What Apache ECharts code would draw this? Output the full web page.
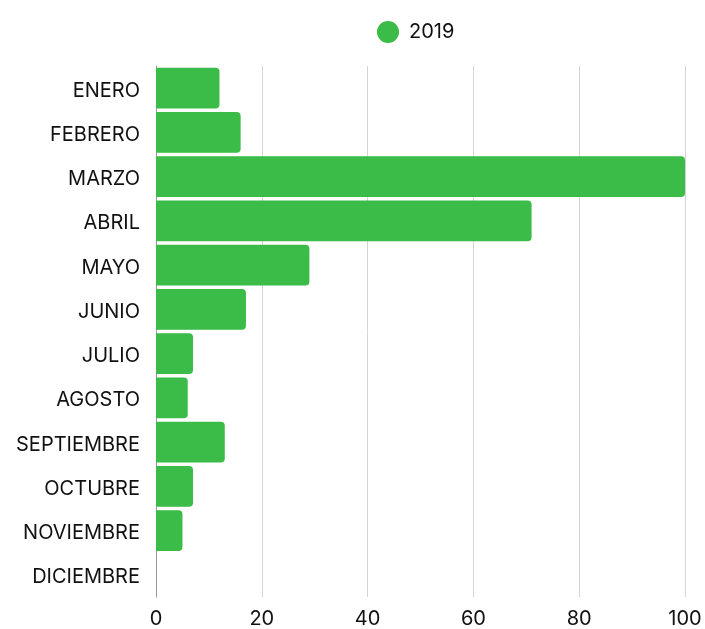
<!DOCTYPE html>
<html>
<head>
    <meta charset="utf-8">
    <script src="https://cdn.jsdelivr.net/npm/echarts@6/dist/echarts.min.js"></script>
    <style>
        html, body { margin: 0; padding: 0; background: #fff; }
        #main { width: 705px; height: 629px; }
    </style>
</head>
<body>
    <div id="main"></div>
    <script type="text/javascript">
        var months = ['ENERO', 'FEBRERO', 'MARZO', 'ABRIL', 'MAYO', 'JUNIO', 'JULIO',
            'AGOSTO', 'SEPTIEMBRE', 'OCTUBRE', 'NOVIEMBRE', 'DICIEMBRE'];
        var values2019 = [12, 16, 100, 71, 29, 17, 7, 6, 13, 7, 5, 0];
        var xTicks = [0, 20, 40, 60, 80, 100];

        var chart = echarts.init(document.getElementById('main'));
        var option = {
            animation: false,
            textStyle: { fontFamily: 'Inter' },
            legend: {
                top: 16,
                left: 372,
                icon: 'circle',
                itemWidth: 22,
                itemHeight: 22,
                itemGap: 8,
                textStyle: { fontSize: 20, color: '#111', fontFamily: 'Inter', padding: [0, 0, 0, 5] },
                data: ['2019']
            },
            grid: {
                left: 156,
                right: 20,
                top: 66,
                bottom: 31,
                containLabel: false
            },
            xAxis: {
                type: 'value',
                min: 0,
                max: 100,
                interval: 20,
                axisLine: { show: false },
                axisTick: { show: false },
                axisLabel: {
                    fontSize: 20,
                    color: '#111',
                    margin: 12,
                    formatter: function (v) { return xTicks.indexOf(v) >= 0 ? String(v) : ''; }
                },
                splitLine: { show: true, lineStyle: { color: '#d4d4d4', width: 1 } }
            },
            yAxis: {
                type: 'category',
                inverse: true,
                data: months,
                axisLine: { show: true, lineStyle: { color: '#999', width: 1 } },
                axisTick: { show: false },
                axisLabel: {
                    margin: 16,
                    formatter: function (v) { return '{m|' + v + '}'; },
                    rich: {
                        m: { fontSize: 20, color: '#111', fontFamily: 'Inter', padding: [5, 0, 0, 0] }
                    }
                }
            },
            series: [{
                name: '2019',
                type: 'bar',
                data: values2019,
                barCategoryGap: '8%',
                itemStyle: {
                    color: '#3bbb48',
                    borderRadius: [0, 4, 4, 0]
                }
            }]
        };
        chart.setOption(option);
    </script>
</body>
</html>
